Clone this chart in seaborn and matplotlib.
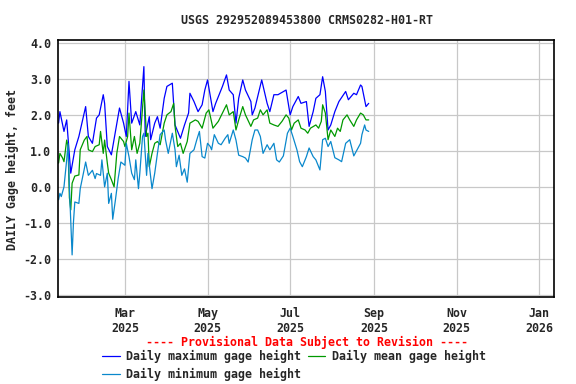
import pandas as pd
import matplotlib
matplotlib.use("Agg")
import matplotlib.pyplot as plt
import seaborn as sns

# daily values (day of year 2025, feet)
max_doy = [11, 12, 15, 17, 20, 23, 26, 31, 33, 36, 39, 41, 44, 45, 47, 50, 56, 59, 61, 63,
           65, 68, 71, 74, 75, 78, 79, 82, 84, 86, 89, 91, 95, 97, 101, 104, 107, 108, 111, 114,
           117, 119, 121, 125, 127, 132, 135, 137, 140, 142, 144, 147, 149, 153, 154, 156, 161, 165, 167, 170,
           173, 179, 182, 184, 188, 190, 194, 196, 199, 201, 204, 206, 208, 210, 212, 215, 218, 223, 225, 229,
           231, 234, 235, 238, 240]
max_ft = [1.77, 2.09, 1.54, 1.86, 0.38, 1.03, 1.40, 2.23, 1.40, 1.21, 1.91, 2.00, 2.56, 2.32, 1.12, 0.89, 2.19, 1.77, 1.40, 2.93,
          1.77, 2.09, 1.72, 3.34, 1.40, 1.95, 1.31, 1.77, 1.95, 1.63, 2.46, 2.79, 2.88, 1.72, 1.35, 1.72, 2.05, 2.60, 2.37, 2.09,
          2.28, 2.69, 2.97, 2.09, 2.32, 2.79, 3.11, 2.69, 2.56, 1.77, 2.46, 2.97, 2.69, 2.37, 2.00, 2.19, 2.97, 2.32, 2.09, 2.56,
          2.56, 2.69, 2.00, 2.23, 2.51, 2.32, 2.37, 1.68, 2.09, 2.46, 2.56, 3.06, 2.65, 1.58, 1.72, 2.09, 2.37, 2.65, 2.42, 2.60,
          2.56, 2.83, 2.79, 2.23, 2.32]

mean_doy = [11, 12, 14, 15, 17, 18, 19, 20, 21, 23, 26, 27, 30, 32, 33, 36, 38, 41, 42, 44,
            45, 47, 48, 50, 52, 54, 56, 59, 60, 62, 63, 65, 67, 69, 71, 73, 74, 76, 77, 78,
            80, 82, 84, 86, 89, 91, 94, 96, 97, 99, 101, 103, 106, 108, 112, 114, 117, 120, 122, 125,
            129, 132, 135, 137, 140, 142, 144, 147, 149, 153, 155, 158, 160, 162, 165, 167, 170, 173, 176, 179,
            181, 183, 185, 188, 190, 193, 195, 197, 201, 203, 205, 206, 208, 210, 212, 215, 217, 219, 221, 224,
            226, 229, 231, 234, 236, 238, 240]
mean_ft = [0.66, 0.93, 0.80, 0.70, 1.30, 1.12, -0.30, -0.64, 0.10, 0.30, 0.33, 1.03, 1.30, 1.40, 1.03, 0.98, 1.12, 1.17, 1.54, 0.93,
           1.30, 0.66, 0.38, 0.20, 0.00, 0.93, 1.40, 1.26, 1.12, 1.40, 2.05, 1.03, 1.40, 0.93, 1.21, 2.19, 2.69, 1.40, 1.49, 0.56,
           0.93, 1.21, 1.26, 1.17, 1.77, 2.00, 2.09, 2.32, 1.68, 1.12, 1.21, 0.93, 1.26, 1.77, 1.86, 1.82, 1.63, 2.05, 2.14, 1.63,
           1.82, 2.05, 2.28, 2.00, 2.09, 1.58, 1.86, 2.23, 2.00, 1.68, 1.86, 1.91, 2.14, 2.00, 2.14, 1.77, 1.72, 1.68, 1.82, 2.00,
           1.91, 1.58, 1.77, 1.86, 1.63, 1.58, 1.49, 1.63, 1.72, 1.63, 1.82, 2.28, 2.05, 1.31, 1.58, 1.40, 1.63, 1.54, 1.86, 2.00,
           1.86, 1.68, 1.86, 2.05, 2.00, 1.86, 1.86]

min_doy = [11, 12, 13, 15, 17, 18, 19, 21, 22, 23, 26, 27, 30, 31, 33, 36, 38, 39, 42, 43,
           45, 47, 48, 50, 51, 53, 55, 57, 60, 61, 63, 65, 67, 68, 70, 71, 73, 74, 76, 77,
           80, 82, 84, 86, 89, 90, 92, 95, 97, 98, 100, 102, 104, 106, 108, 111, 113, 115, 117, 119,
           121, 123, 124, 126, 129, 131, 134, 136, 137, 140, 142, 144, 147, 149, 151, 154, 156, 158, 160, 162,
           165, 167, 170, 172, 174, 177, 180, 182, 184, 187, 189, 191, 194, 196, 199, 201, 204, 206, 208, 210,
           212, 215, 218, 220, 223, 226, 229, 231, 234, 235, 237, 238, 240]
min_ft = [-0.36, -0.18, -0.27, 0.00, 0.75, 1.20, 0.00, -1.89, -0.98, -0.42, -0.46, -0.05, 0.50, 0.69, 0.32, 0.46, 0.23, 0.37, 0.32, 0.75,
          0.00, 0.38, -0.46, -0.18, -0.90, -0.36, 0.23, 0.69, 0.60, 1.21, 0.84, 0.38, 0.20, 0.75, -0.05, 0.38, 1.40, 1.49, 0.32, 0.93,
          -0.05, 0.38, 0.93, 1.45, 1.58, 1.30, 0.93, 1.49, 1.03, 0.56, 0.88, 0.32, 0.50, 0.13, 0.93, 1.03, 1.30, 1.54, 0.84, 0.80,
          1.21, 1.12, 1.03, 1.45, 1.21, 1.17, 1.35, 1.45, 1.21, 1.58, 1.30, 0.88, 0.84, 0.80, 0.69, 1.31, 1.58, 1.58, 1.40, 0.93,
          1.17, 1.03, 1.21, 0.75, 0.69, 0.86, 1.49, 1.63, 1.40, 1.03, 0.70, 0.56, 0.84, 1.08, 0.84, 0.75, 0.47, 1.31, 1.35, 1.12,
          1.26, 0.81, 0.75, 0.70, 1.21, 1.31, 0.86, 1.00, 1.21, 1.45, 1.72, 1.58, 1.54]

tick_dates = ["2025-03-01", "2025-05-01", "2025-07-01", "2025-09-01", "2025-11-01", "2026-01-01"]
tick_labels = ["Mar\n2025", "May\n2025", "Jul\n2025", "Sep\n2025", "Nov\n2025", "Jan\n2026"]
y_ticks = [-3.0, -2.0, -1.0, 0.0, 1.0, 2.0, 3.0, 4.0]


def to_dates(doy):
    return pd.Timestamp("2025-01-01") + pd.to_timedelta([d - 1 for d in doy], unit="D")


sns.set_style("white")
plt.rcParams["font.family"] = ["DejaVu Sans Mono"]
plt.rcParams["font.weight"] = "bold"
fs = 8.4

fig = plt.figure(figsize=(5.76, 3.84), dpi=100)
ax = fig.add_axes([58 / 576, 1 - 297 / 384, 496 / 576, 257 / 384])

sns.lineplot(x=to_dates(max_doy), y=max_ft, color="#0000ff", lw=0.9, ax=ax,
             label="Daily maximum gage height")
sns.lineplot(x=to_dates(mean_doy), y=mean_ft, color="#009900", lw=0.9, ax=ax,
             label="Daily mean gage height")
sns.lineplot(x=to_dates(min_doy), y=min_ft, color="#0a88cc", lw=0.9, ax=ax,
             label="Daily minimum gage height")

ax.set_xlim(pd.Timestamp("2025-01-10 14:00"), pd.Timestamp("2026-01-11 20:00"))
ax.set_ylim(-3.06, 4.08)
ax.set_xticks(pd.to_datetime(tick_dates))
ax.set_xticklabels(tick_labels)
ax.set_yticks(y_ticks)
ax.set_yticklabels([f"{v:.1f}" for v in y_ticks])
ax.tick_params(axis="both", length=0, labelsize=fs)
ax.tick_params(axis="x", pad=7)
ax.tick_params(axis="y", pad=5)
ax.grid(True, color="#c8c8c8", lw=0.9)
for s in ax.spines.values():
    s.set_color("black")
    s.set_linewidth(1.2)
ax.set_xlabel("")
ax.set_ylabel("")

fig.text(12 / 576, 1 - 170 / 384, "DAILY Gage height, feet", rotation=90,
         ha="center", va="center", fontsize=fs)
fig.text(307 / 576, 1 - 20 / 384, "USGS 292952089453800 CRMS0282-H01-RT",
         ha="center", va="center", fontsize=fs)
fig.text(307 / 576, 1 - 342 / 384, "---- Provisional Data Subject to Revision ----",
         ha="center", va="center", fontsize=fs, color="red")

h, l = ax.get_legend_handles_labels()
ax.get_legend().remove()
order = [0, 2, 1]
fig.legend([h[i] for i in order], [l[i] for i in order], ncol=2, frameon=False,
           loc="upper left", bbox_to_anchor=(102 / 576, 1 - 350 / 384),
           borderpad=0, borderaxespad=0, handlelength=1.5, handletextpad=0.55,
           columnspacing=0.6, labelspacing=0.42, fontsize=fs)

fig.savefig("out.png", dpi=100)
